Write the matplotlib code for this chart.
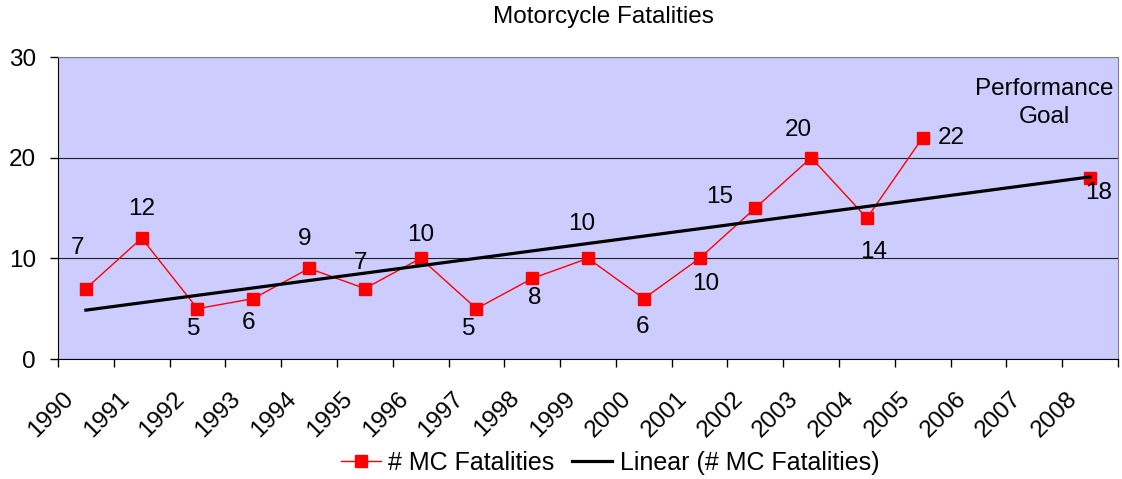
import numpy as np
import matplotlib
matplotlib.use("Agg")
import matplotlib.pyplot as plt
from matplotlib.transforms import ScaledTranslation

plt.rcParams['font.family'] = ['Liberation Sans', 'DejaVu Sans']

years = ['1990', '1991', '1992', '1993', '1994', '1995', '1996', '1997', '1998', '1999',
         '2000', '2001', '2002', '2003', '2004', '2005', '2006', '2007', '2008']
fatalities = [7, 12, 5, 6, 9, 7, 10, 5, 8, 10, 6, 10, 15, 20, 14, 22, np.nan, np.nan, 18]
y_ticks = [0, 10, 20, 30]

# label offsets in pixels (dx, dy)
label_offsets = [(-8, 41), (0, 29), (-4, -20), (-5, -24), (-4, 29), (-4, 26), (0, 23),
                 (-8, -20), (2, -20), (-6, 34), (-1, -28), (6, -26), (-36, 11), (-13, 28),
                 (7, -34), (29, 0), None, None, (8, -15)]

FS = 17.5

fig = plt.figure(figsize=(11.22, 4.79), dpi=100)
ax = fig.add_axes([58/1122, 1-359/479, (1118-58)/1122, (359-57)/479])
ax.set_facecolor('#CCCCFF')

x = np.arange(len(years))
y = np.array(fatalities, dtype=float)

ax.plot(x, y, color='#FF0000', lw=1.0, marker='s', markersize=8,
        markerfacecolor='#FF0000', markeredgecolor='#FF0000', label='# MC Fatalities', zorder=3)

mask = ~np.isnan(y)
coef = np.polyfit(x[mask], y[mask], 1)
ax.plot(x, np.polyval(coef, x), color='black', lw=2.3, label='Linear (# MC Fatalities)', zorder=4)

for xi, yi, off in zip(x, y, label_offsets):
    if off is None or np.isnan(yi):
        continue
    ax.annotate(f'{int(yi)}', (xi, yi), xytext=off, textcoords='offset pixels',
                ha='center', va='center', fontsize=FS, zorder=5)

ax.text(1044/1122, 1-103/479, 'Performance\nGoal', transform=fig.transFigure,
        ha='center', va='center', fontsize=FS, linespacing=1.32)

ax.set_xlim(-0.5, len(years) - 0.5)
ax.set_ylim(0, 30)
ax.set_yticks(y_ticks)
ax.set_yticklabels([str(t) for t in y_ticks], fontsize=FS)
ax.yaxis.grid(True, color='#222222', lw=0.8)
ax.set_axisbelow(True)

ax.set_xticks(np.arange(len(years) + 1) - 0.5)
ax.set_xticklabels([])
ax.tick_params(axis='x', length=6, width=1, direction='out')
ax.set_xticks(x, minor=True)
ax.set_xticklabels(years, minor=True, rotation=45, ha='right', va='center',
                   rotation_mode='anchor', fontsize=FS)
ax.tick_params(axis='x', which='minor', length=0, pad=26)
off = ScaledTranslation(-16/100, 0, fig.dpi_scale_trans)
for lab in ax.get_xticklabels(minor=True):
    lab.set_transform(lab.get_transform() + off)
ax.tick_params(axis='y', length=6, width=1, pad=10)

for s in ['top', 'right']:
    ax.spines[s].set_color('#808080')
for s in ['left', 'bottom']:
    ax.spines[s].set_color('black')

fig.text(603/1122, 1-17/479, 'Motorcycle Fatalities', ha='center', va='center', fontsize=FS)

fig.legend(loc='center', bbox_to_anchor=(610/1122, 1-463/479), ncol=2, frameon=False,
           fontsize=18, handlelength=1.6, columnspacing=0.7, handletextpad=0.3)

fig.savefig('out.png', dpi=100)
